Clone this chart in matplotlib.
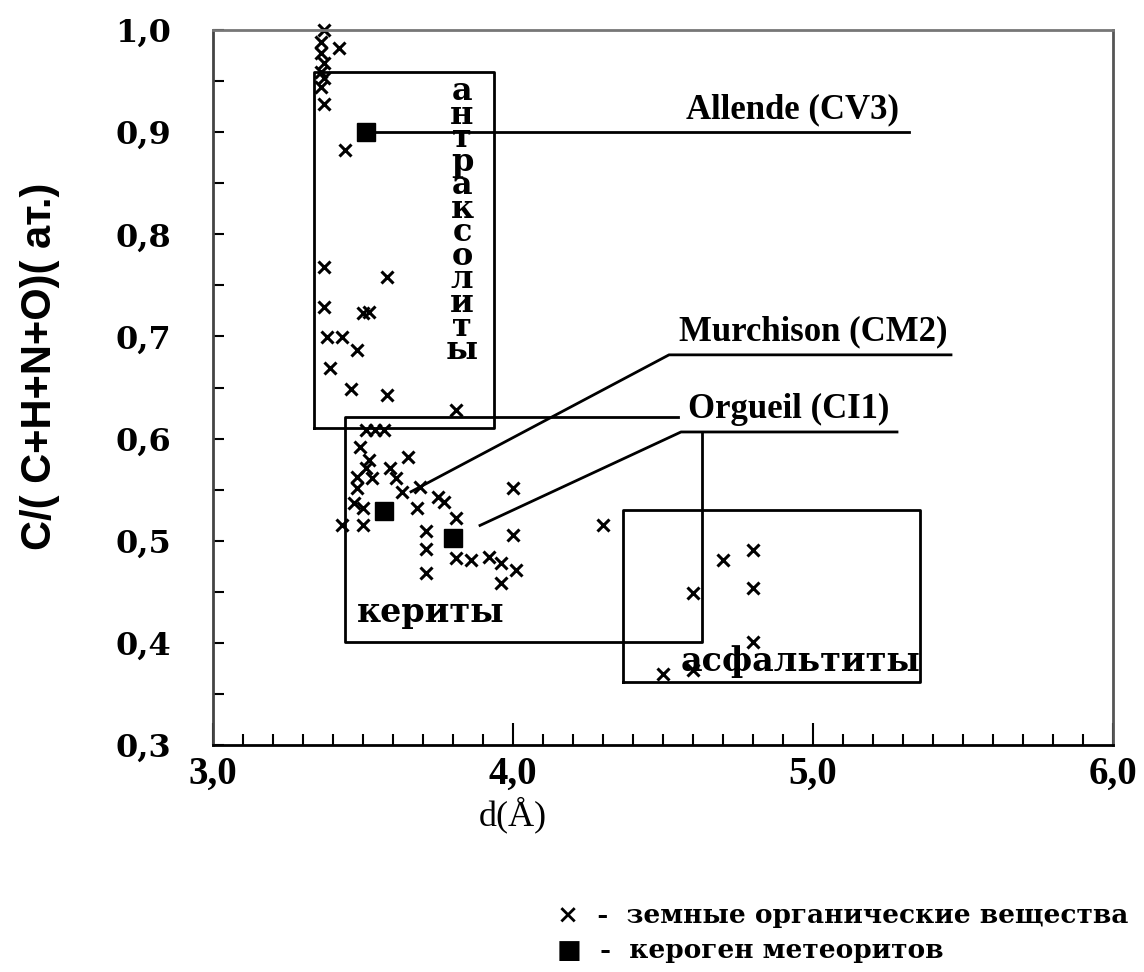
import matplotlib
matplotlib.use("Agg")
import matplotlib.pyplot as plt
from matplotlib.ticker import MultipleLocator, FixedLocator

# terrestrial organic matter (crosses)
earth_x = [3.37, 3.36, 3.42, 3.36, 3.37, 3.36, 3.37, 3.36, 3.37, 3.44,
           3.37, 3.58, 3.37, 3.50, 3.52, 3.38, 3.43, 3.48, 3.39, 3.46, 3.58,
           3.81, 3.51, 3.54, 3.57, 3.49, 3.65, 3.52, 3.51, 3.59, 3.48, 3.53,
           3.61, 3.69, 3.63, 3.48, 3.75, 3.77, 3.68, 3.47, 3.50, 3.81, 3.43,
           3.50, 4.00, 3.71, 3.71, 4.00, 3.71, 3.81, 3.86, 3.92, 3.96, 4.01,
           3.96, 4.30, 4.80, 4.70, 4.80, 4.60, 4.80, 4.60, 4.50]
earth_y = [1.000, 0.988, 0.982, 0.978, 0.968, 0.959, 0.953, 0.944, 0.928, 0.883,
           0.768, 0.758, 0.729, 0.723, 0.724, 0.699, 0.699, 0.687, 0.669, 0.649, 0.643,
           0.628, 0.608, 0.608, 0.608, 0.592, 0.582, 0.579, 0.571, 0.571, 0.562, 0.561,
           0.561, 0.553, 0.548, 0.552, 0.543, 0.538, 0.532, 0.537, 0.532, 0.522, 0.515,
           0.515, 0.552, 0.510, 0.492, 0.506, 0.468, 0.483, 0.481, 0.484, 0.478, 0.471,
           0.459, 0.515, 0.491, 0.481, 0.454, 0.449, 0.401, 0.373, 0.370]

# meteorite kerogen (squares)
met_names = ["Allende (CV3)", "Murchison (CM2)", "Orgueil (CI1)"]
met_x = [3.51, 3.57, 3.80]
met_y = [0.900, 0.529, 0.503]

# leader lines: start near the point, knee, end of underline; label centre
lead_x = [3.54, 3.66, 3.89]
lead_y = [0.900, 0.548, 0.515]
knee_x = [3.54, 4.52, 4.56]
line_end_x = [5.32, 5.46, 5.28]
line_y = [0.900, 0.682, 0.6065]
label_cx = [4.93, 5.00, 4.92]

# group names and boxes: x0, x1, y0, y1
box_names = ["антраксолиты", "кериты", "асфальтиты"]
box_x0 = [3.337, 3.44, 4.367]
box_x1 = [3.937, 4.63, 5.357]
box_y0 = [0.610, 0.401, 0.362]
box_y1 = [0.959, 0.621, 0.530]

fig = plt.figure(figsize=(11.44, 9.72), dpi=100)
ax = fig.add_axes([0.1862, 0.2335, 0.7867, 0.7356])

ax.plot(earth_x, earth_y, linestyle="none", marker="x", color="black",
        markersize=8, markeredgewidth=2.2, clip_on=False)
ax.plot(met_x, met_y, linestyle="none", marker="s", color="black",
        markersize=13, zorder=5)

# antraxolite and asphaltite boxes
for i in (0, 2):
    x0, x1, y0, y1 = box_x0[i], box_x1[i], box_y0[i], box_y1[i]
    ax.plot([x0, x1, x1, x0, x0], [y0, y0, y1, y1, y0], color="black", lw=2)

# kerite box: top edge runs on to the Orgueil label, right edge starts at its underline
kx0, kx1, ky0, ky1 = box_x0[1], box_x1[1], box_y0[1], box_y1[1]
ax.plot([knee_x[2] - 0.01, kx0, kx0, kx1, kx1], [ky1, ky1, ky0, ky0, line_y[2]],
        color="black", lw=2)

# meteorite labels with leader lines
for name, lx, ly, kx, ex, y, cx in zip(met_names, lead_x, lead_y, knee_x,
                                        line_end_x, line_y, label_cx):
    ax.plot([lx, kx, ex], [ly, y, y], color="black", lw=2)
    ax.text(cx, y + 0.006, name, ha="center", va="bottom",
            fontsize=25, fontweight="bold", family="Liberation Serif")

# group names
ax.text(3.83, 0.955, "\n".join(box_names[0]), ha="center", va="top",
        fontsize=23, fontweight="bold", family="DejaVu Serif", linespacing=0.69)
ax.text(3.48, 0.430, box_names[1], ha="left", va="center",
        fontsize=24, fontweight="bold", family="DejaVu Serif")
ax.text(4.96, 0.382, box_names[2], ha="center", va="center",
        fontsize=24, fontweight="bold", family="DejaVu Serif")

ax.set_xlim(3.0, 6.0)
ax.set_ylim(0.3, 1.0)
ax.xaxis.set_major_locator(FixedLocator([3.0, 4.0, 5.0, 6.0]))
ax.xaxis.set_minor_locator(MultipleLocator(0.1))
ax.yaxis.set_major_locator(MultipleLocator(0.1))
ax.yaxis.set_minor_locator(MultipleLocator(0.05))
ax.tick_params(which="both", direction="in", top=False, right=False, width=1.5)
ax.tick_params(which="major", length=16, pad=8)
ax.tick_params(which="minor", length=8)
ax.tick_params(axis="y", which="major", length=8, pad=30)

ax.set_xticklabels(["3,0", "4,0", "5,0", "6,0"], fontsize=28,
                   fontweight="bold", family="Liberation Serif")
ax.set_yticks([0.3, 0.4, 0.5, 0.6, 0.7, 0.8, 0.9, 1.0])
ax.set_yticklabels(["0,3", "0,4", "0,5", "0,6", "0,7", "0,8", "0,9", "1,0"],
                   fontsize=23, fontweight="bold", family="DejaVu Serif")

for s in ax.spines.values():
    s.set_linewidth(2)
ax.spines["top"].set_color("#777777")
ax.spines["right"].set_color("#555555")
ax.spines["left"].set_color("#444444")

ax.set_xlabel("d(Å)", fontsize=26, family="Liberation Serif")
ax.xaxis.set_label_coords(0.333, -0.072)
ax.set_ylabel("C/( C+H+N+O)( ат.)", fontsize=30, fontweight="bold",
              family="Liberation Sans")
ax.yaxis.set_label_coords(-0.17, 0.53)

# legend at bottom right
fig.text(0.487, 0.0586, "×  -  земные органические вещества", fontsize=19,
         fontweight="bold", family=["DejaVu Serif"], va="center")
fig.text(0.487, 0.0226, "■  -  кероген метеоритов", fontsize=19,
         fontweight="bold", family=["DejaVu Serif"], va="center")

fig.savefig("out.png", dpi=100)
